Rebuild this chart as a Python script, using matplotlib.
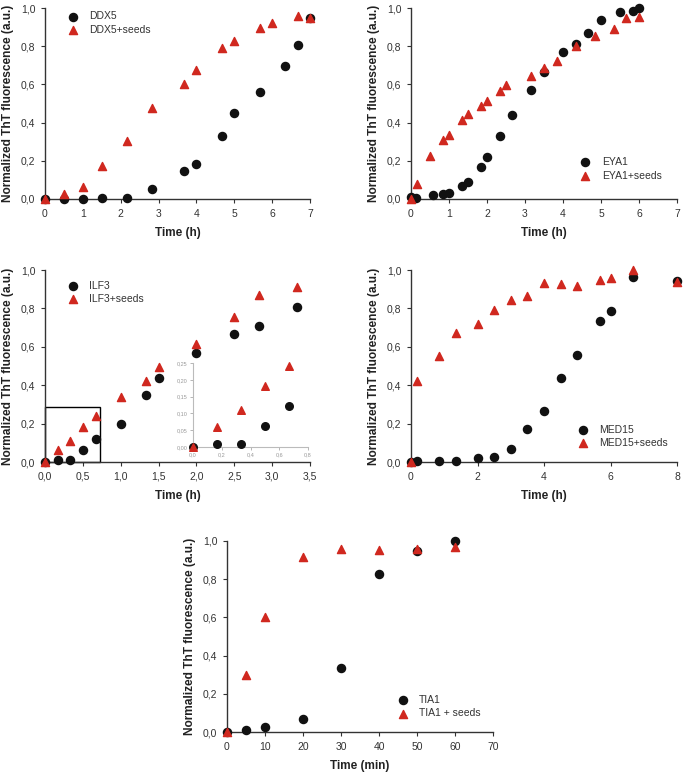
import matplotlib
matplotlib.use('Agg')
import matplotlib.pyplot as plt
from matplotlib.patches import Rectangle
from matplotlib.ticker import FuncFormatter

plt.rcParams['font.family'] = ['Liberation Sans', 'DejaVu Sans']

# DDX5
ddx5_t = [0, 0.5, 1, 1.5, 2.17, 2.83, 3.67, 4, 4.67, 5, 5.67, 6.33, 6.67, 7]
ddx5 = [0, 0, 0, 0.003, 0.005, 0.053, 0.145, 0.185, 0.33, 0.45, 0.56, 0.695, 0.805, 0.95]
ddx5s_t = [0, 0.5, 1, 1.5, 2.17, 2.83, 3.67, 4, 4.67, 5, 5.67, 6, 6.67, 7]
ddx5s = [0, 0.025, 0.065, 0.175, 0.305, 0.478, 0.60, 0.678, 0.79, 0.825, 0.895, 0.92, 0.96, 0.95]

# EYA1
eya1_t = [0, 0.12, 0.58, 0.85, 1.0, 1.34, 1.5, 1.83, 2.0, 2.34, 2.67, 3.17, 3.5, 4.0,
          4.34, 4.67, 5.0, 5.5, 5.83, 6.0]
eya1 = [0.01, 0.007, 0.02, 0.027, 0.032, 0.07, 0.09, 0.165, 0.22, 0.33, 0.44, 0.572,
        0.665, 0.768, 0.813, 0.867, 0.939, 0.979, 0.984, 1.0]
eya1s_t = [0, 0.17, 0.5, 0.84, 1.0, 1.34, 1.5, 1.84, 2.0, 2.34, 2.5, 3.17, 3.5, 3.84,
           4.34, 4.84, 5.34, 5.67, 6.0]
eya1s = [0.0, 0.08, 0.225, 0.308, 0.333, 0.413, 0.443, 0.485, 0.515, 0.567, 0.598, 0.645,
         0.685, 0.72, 0.80, 0.852, 0.892, 0.95, 0.953]

# ILF3
ilf3_t = [0, 0.167, 0.333, 0.5, 0.667, 1.0, 1.333, 1.5, 2.0, 2.5, 2.833, 3.333]
ilf3 = [0, 0.008, 0.01, 0.063, 0.122, 0.197, 0.348, 0.439, 0.57, 0.667, 0.706, 0.808]
ilf3s_t = [0, 0.167, 0.333, 0.5, 0.667, 1.0, 1.333, 1.5, 2.0, 2.5, 2.833, 3.333]
ilf3s = [0, 0.06, 0.111, 0.183, 0.24, 0.341, 0.42, 0.495, 0.613, 0.754, 0.869, 0.911]

# MED15
med15_t = [0, 0.17, 0.84, 1.34, 2.0, 2.5, 3.0, 3.5, 4.0, 4.5, 5.0, 5.67, 6.0, 6.67, 8.0]
med15 = [0, 0.005, 0.005, 0.003, 0.02, 0.026, 0.066, 0.17, 0.267, 0.44, 0.556, 0.735,
         0.787, 0.965, 0.943]
med15s_t = [0, 0.17, 0.84, 1.34, 2.0, 2.5, 3.0, 3.5, 4.0, 4.5, 5.0, 5.67, 6.0, 6.67, 8.0]
med15s = [0, 0.423, 0.554, 0.671, 0.72, 0.793, 0.843, 0.866, 0.932, 0.927, 0.918, 0.946,
          0.958, 1.0, 0.937]

# TIA1
tia1_t = [0, 5, 10, 20, 30, 40, 50, 60]
tia1 = [0, 0.01, 0.027, 0.067, 0.336, 0.829, 0.95, 1.0]
tia1s = [0, 0.30, 0.60, 0.918, 0.96, 0.951, 0.958, 0.971]

RED = '#d0281f'
BLACK = '#111111'
GRAY = '#333333'

W, H = 685, 776
fig = plt.figure(figsize=(W / 100, H / 100), dpi=100)


def comma(fmt):
	return FuncFormatter(lambda v, p: (fmt % v).replace('.', ','))


def panel(rect, t1, y1, t2, y2, labels, xmax, xstep, xfmt, xlabel, legloc):
	ax = fig.add_axes([rect[0] / W, 1 - rect[3] / H, (rect[2] - rect[0]) / W, (rect[3] - rect[1]) / H])
	ax.scatter(t1, y1, s=34, marker='o', color=BLACK, label=labels[0], clip_on=False, zorder=3)
	ax.scatter(t2, y2, s=34, marker='^', color=RED, label=labels[1], clip_on=False, zorder=3)
	ax.set_xlim(0, xmax)
	ax.set_ylim(0, 1.0)
	ax.set_xticks([i * xstep for i in range(int(round(xmax / xstep)) + 1)])
	ax.set_yticks([0, 0.2, 0.4, 0.6, 0.8, 1.0])
	ax.xaxis.set_major_formatter(comma(xfmt))
	ax.yaxis.set_major_formatter(comma('%.1f'))
	for s in ['top', 'right']:
		ax.spines[s].set_visible(False)
	for s in ['left', 'bottom']:
		ax.spines[s].set_color(GRAY)
		ax.spines[s].set_linewidth(1.0)
	ax.tick_params(labelsize=7.5, colors=GRAY, length=3, width=0.8, pad=4)
	ax.set_xlabel(xlabel, fontsize=8.5, fontweight='bold', color='#222222', labelpad=6)
	ax.set_ylabel('Normalized ThT fluorescence (a.u.)', fontsize=8.6, fontweight='bold',
	              color='#222222', labelpad=5)
	ax.legend(loc=legloc, frameon=False, fontsize=7.5, handletextpad=0.6,
	          labelspacing=0.35, scatterpoints=1, borderaxespad=0.8,
	          labelcolor='#333333')
	return ax


panel((45, 8, 310, 199), ddx5_t, ddx5, ddx5s_t, ddx5s, ['DDX5', 'DDX5+seeds'],
      7, 1, '%d', 'Time (h)', (0.05, 0.837))
panel((411, 8, 677, 199), eya1_t, eya1, eya1s_t, eya1s, ['EYA1', 'EYA1+seeds'],
      7, 1, '%d', 'Time (h)', (0.6, 0.074))
ax3 = panel((45, 270, 310, 462), ilf3_t, ilf3, ilf3s_t, ilf3s, ['ILF3', 'ILF3+seeds'],
            3.5, 0.5, '%.1f', 'Time (h)', (0.05, 0.80))
panel((411, 270, 677, 462), med15_t, med15, med15s_t, med15s, ['MED15', 'MED15+seeds'],
      8, 2, '%d', 'Time (h)', (0.59, 0.05))
panel((227, 541, 493, 732), tia1_t, tia1, tia1_t, tia1s, ['TIA1', 'TIA1 + seeds'],
      70, 10, '%d', 'Time (min)', (0.605, 0.05))

ax3.add_patch(Rectangle((0, 0), 0.72, 0.285, fill=False, edgecolor='black', lw=1.0,
                        clip_on=False, zorder=2))

# inset for ILF3 early points
n = 5
ins = fig.add_axes([193 / W, 1 - 447 / H, 115 / W, 84 / H])
ins.patch.set_alpha(0)
ins.scatter(ilf3_t[:n], ilf3[:n], s=30, marker='o', color=BLACK, clip_on=False, zorder=3)
ins.scatter(ilf3s_t[:n], ilf3s[:n], s=30, marker='^', color=RED, clip_on=False, zorder=3)
ins.set_xlim(0, 0.8)
ins.set_ylim(0, 0.25)
ins.set_xticks([0, 0.2, 0.4, 0.6, 0.8])
ins.set_yticks([0, 0.05, 0.10, 0.15, 0.20, 0.25])
ins.xaxis.set_major_formatter(comma('%.1f'))
ins.yaxis.set_major_formatter(comma('%.2f'))
for s in ['top', 'right']:
	ins.spines[s].set_visible(False)
for s in ['left', 'bottom']:
	ins.spines[s].set_color('#bbbbbb')
	ins.spines[s].set_linewidth(0.8)
ins.tick_params(labelsize=4, colors='#999999', length=2, width=0.5, pad=2)

fig.savefig('out.png', dpi=100)
